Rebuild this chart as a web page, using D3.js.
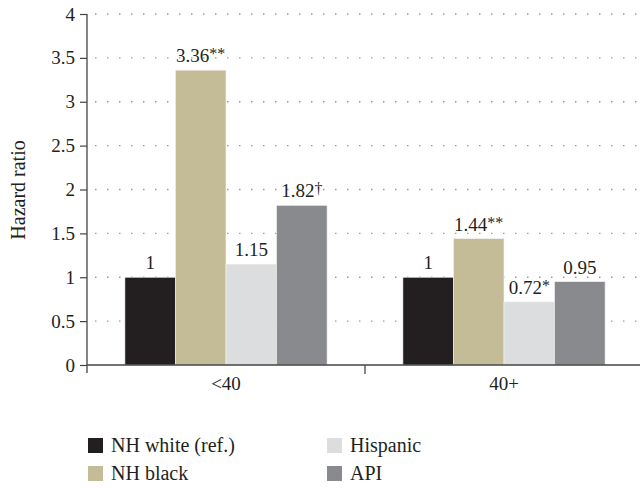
<!DOCTYPE html>
<html>
<head>
<meta charset="utf-8">
<script src="https://cdn.jsdelivr.net/npm/d3@7"></script>
<style>
  body { margin: 0; background: #fff; }
  svg { display: block; }
  svg text { font-family: "Liberation Serif", "DejaVu Serif", serif; }
</style>
</head>
<body>
<svg id="chart" width="640" height="488"></svg>
<script>
// data
const groups = ["<40", "40+"];
const series = ["NH white (ref.)", "NH black", "Hispanic", "API"];
const colors = ["#231f20", "#c4bc96", "#dcdddf", "#898a8e"];
const values = [
  [1, 3.36, 1.15, 1.82],
  [1, 1.44, 0.72, 0.95]
];
const marks = [
  ["", "**", "", "\u2020"],
  ["", "**", "*", ""]
];
const yTicks = [0, 0.5, 1, 1.5, 2, 2.5, 3, 3.5, 4];

const svg = d3.select("#chart");
const margin = { top: 14, left: 87, bottom: 365, right: 643 };
const ink = "#231f20";
const fs = 19;

const y = d3.scaleLinear().domain([0, 4]).range([margin.bottom, margin.top]);
const x0 = d3.scaleBand().domain(groups).range([margin.left, margin.right]).padding(0);
const x1 = d3.scaleBand().domain(series).range([0, x0.bandwidth()])
  .paddingInner(0).paddingOuter(0.75);

// dotted gridlines
svg.append("g")
  .selectAll("line")
  .data(yTicks.filter(d => d > 0))
  .enter()
  .append("line")
  .attr("x1", margin.left + 8)
  .attr("x2", 640)
  .attr("y1", d => y(d))
  .attr("y2", d => y(d))
  .attr("stroke", "#9a9a9a")
  .attr("stroke-width", 1.3)
  .attr("stroke-dasharray", "1.5,10.5");

// bars
const g = svg.append("g")
  .selectAll("g")
  .data(groups)
  .enter()
  .append("g")
  .attr("transform", d => `translate(${x0(d)},0)`);

g.selectAll("rect")
  .data((d, i) => values[i].map((v, j) => ({ v, j, m: marks[i][j] })))
  .enter()
  .append("rect")
  .attr("x", d => x1(series[d.j]))
  .attr("width", x1.bandwidth())
  .attr("y", d => y(d.v))
  .attr("height", d => y(0) - y(d.v))
  .attr("fill", d => colors[d.j])
  .attr("stroke", "#f4f4f0")
  .attr("stroke-width", 0.6);

// value labels
const lbl = g.selectAll("text")
  .data((d, i) => values[i].map((v, j) => ({ v, j, m: marks[i][j] })))
  .enter()
  .append("text")
  .attr("x", d => x1(series[d.j]) + x1.bandwidth() / 2)
  .attr("y", d => y(d.v) - 8)
  .attr("text-anchor", "middle")
  .attr("font-size", fs)
  .attr("fill", ink);
lbl.append("tspan").text(d => String(d.v));
lbl.append("tspan")
  .attr("font-size", 16)
  .attr("dy", -3)
  .text(d => d.m);

// y axis
const yAxis = svg.append("g")
  .attr("transform", `translate(${margin.left},0)`)
  .call(d3.axisLeft(y).tickValues(yTicks).tickSize(7).tickPadding(5).tickFormat(d3.format("")));
yAxis.select(".domain").attr("d", `M0,${margin.top}V${margin.bottom + 8}`).attr("stroke", "#444").attr("stroke-width", 1.3);
yAxis.selectAll(".tick line").attr("stroke", "#444").attr("stroke-width", 1.2);
yAxis.selectAll(".tick text").attr("font-size", fs).attr("fill", ink);

// x axis
const xAxis = svg.append("g")
  .attr("transform", `translate(0,${margin.bottom})`)
  .call(d3.axisBottom(x0).tickSize(0).tickPadding(12));
xAxis.select(".domain").attr("d", `M${margin.left},0H640`).attr("stroke", "#444").attr("stroke-width", 1.3);
xAxis.selectAll(".tick text").attr("font-size", fs).attr("fill", ink);
xAxis.append("line")
  .attr("x1", x0("40+")).attr("x2", x0("40+"))
  .attr("y1", 0).attr("y2", 9)
  .attr("stroke", "#444").attr("stroke-width", 1.3);

// y title
svg.append("text")
  .attr("transform", "translate(25,190) rotate(-90)")
  .attr("text-anchor", "middle")
  .attr("font-size", 20)
  .attr("fill", ink)
  .text("Hazard ratio");

// legend
const legendPos = [[88, 445], [88, 473], [327, 445], [327, 473]];
const leg = svg.append("g")
  .selectAll("g")
  .data(series)
  .enter()
  .append("g")
  .attr("transform", (d, i) => `translate(${legendPos[i][0]},${legendPos[i][1]})`);
leg.append("rect")
  .attr("x", 0).attr("y", -7)
  .attr("width", 15).attr("height", 15)
  .attr("fill", (d, i) => colors[i]);
leg.append("text")
  .attr("x", 23).attr("y", 7)
  .attr("font-size", 20)
  .attr("fill", ink)
  .text(d => d);
</script>
</body>
</html>
